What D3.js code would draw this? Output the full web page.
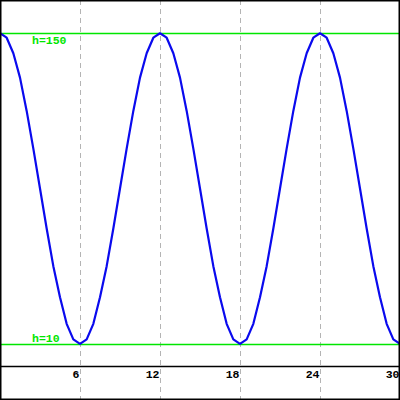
<!DOCTYPE html>
<html>
<head>
<meta charset="utf-8">
<script src="https://cdn.jsdelivr.net/npm/d3@7"></script>
<style>
html,body{margin:0;padding:0;background:#fff;}
svg{display:block;}
</style>
</head>
<body>
<script>
// Data
const times = d3.range(0, 30.001, 0.5).map(d => +d.toFixed(1)); // sample times (every 0.5)
const heights = [
  150,148,141,130,115,98,80,62,45,31,19,12,10,12,19,31,45,62,80,98,115,130,141,148,
  150,148,141,130,115,98,80,62,45,31,19,12,10,12,19,31,45,62,80,98,115,130,141,148,
  150,148,141,130,115,98,80,62,45,31,19,12,10
];
const tickValues = [6, 12, 18, 24, 30];
const refLines = [150, 10];
const refLabels = ["h=150", "h=10"];

const W = 400, H = 400, axisY = 366;
const svg = d3.select("body").append("svg").attr("width", W).attr("height", H);
svg.append("rect").attr("width", W).attr("height", H).attr("fill", "#fff");

const x = d3.scaleLinear().domain([0, 30]).range([0, 400]);
const y = d3.scaleLinear().domain([0, 165]).range([axisY, 0]);

// vertical dashed grid lines across the full height
svg.append("g").selectAll("line").data(tickValues).join("line")
  .attr("x1", d => Math.round(x(d)) + 0.5).attr("x2", d => Math.round(x(d)) + 0.5)
  .attr("y1", 0).attr("y2", H)
  .attr("stroke", "#b4b4b4").attr("stroke-width", 1)
  .attr("stroke-dasharray", "5,4");

// reference lines
svg.append("g").selectAll("line").data(refLines).join("line")
  .attr("x1", 0).attr("x2", W)
  .attr("y1", d => Math.round(y(d)) + 0.5).attr("y2", d => Math.round(y(d)) + 0.5)
  .attr("stroke", "#00e600").attr("stroke-width", 1.3);

// reference labels
svg.append("g").selectAll("text").data(refLines).join("text")
  .attr("x", 32)
  .attr("y", (d, i) => i === 0 ? y(d) + 11 : y(d) - 2)
  .attr("fill", "#00e600")
  .attr("font-family", "'Liberation Mono', 'DejaVu Sans Mono', monospace")
  .attr("font-weight", "bold").attr("font-size", 11.5)
  .text((d, i) => refLabels[i]);

// curve
const pts = times.map((t, i) => [t, heights[i]]);
svg.append("path").datum(pts)
  .attr("fill", "none").attr("stroke", "#0a0aee").attr("stroke-width", 2.2)
  .attr("stroke-linejoin", "round")
  .attr("d", d3.line().x(d => x(d[0])).y(d => y(d[1])));

// x axis line and labels
const axis = d3.axisBottom(x).tickValues(tickValues).tickSize(0).tickPadding(0)
  .tickFormat(d3.format("d"));
const gA = svg.append("g").attr("transform", `translate(0,${axisY})`).call(axis);
gA.select(".domain").remove();
gA.selectAll("text")
  .attr("text-anchor", "end").attr("dx", -1).attr("dy", 0).attr("y", 12)
  .attr("fill", "#000")
  .attr("font-family", "'Liberation Mono', 'DejaVu Sans Mono', monospace")
  .attr("font-weight", "bold").attr("font-size", 11.5);
svg.append("line").attr("x1", 0).attr("x2", W).attr("y1", axisY + 0.5).attr("y2", axisY + 0.5)
  .attr("stroke", "#000").attr("stroke-width", 1.5);

// frame
svg.append("rect").attr("x", 0.75).attr("y", 0.75).attr("width", W - 1.5).attr("height", H - 1.5)
  .attr("fill", "none").attr("stroke", "#000").attr("stroke-width", 1.5);
</script>
</body>
</html>
